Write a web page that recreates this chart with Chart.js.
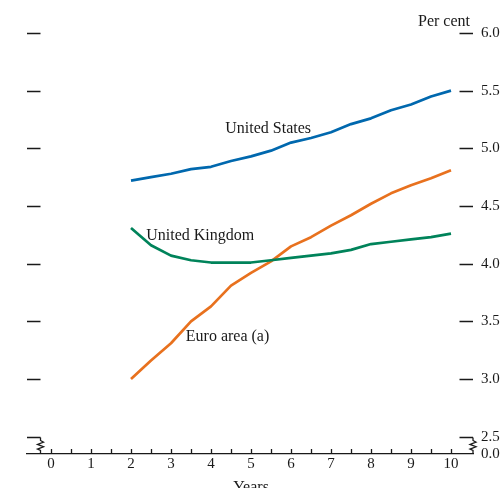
<!DOCTYPE html>
<html>
<head>
<meta charset="utf-8">
<script src="https://cdn.jsdelivr.net/npm/chart.js@4/dist/chart.umd.min.js"></script>
<style>
  html, body { margin: 0; padding: 0; background: #fff; }
  #wrap { width: 504px; height: 488px; }
</style>
</head>
<body>
<div id="wrap"><canvas id="c" width="504" height="488"></canvas></div>
<script>
// Horizon in years and the three paths, per cent
const years = [2, 2.5, 3, 3.5, 4, 4.5, 5, 5.5, 6, 6.5, 7, 7.5, 8, 8.5, 9, 9.5, 10];
const unitedStates  = [4.72, 4.75, 4.78, 4.82, 4.84, 4.89, 4.93, 4.98, 5.05, 5.09, 5.14, 5.21, 5.26, 5.33, 5.38, 5.45, 5.50];
const unitedKingdom = [4.31, 4.16, 4.07, 4.03, 4.01, 4.01, 4.01, 4.03, 4.05, 4.07, 4.09, 4.12, 4.17, 4.19, 4.21, 4.23, 4.26];
const euroArea      = [3.00, 3.16, 3.31, 3.50, 3.63, 3.81, 3.92, 4.02, 4.15, 4.23, 4.33, 4.42, 4.52, 4.61, 4.68, 4.74, 4.81];

// Axis ticks
const xTickValues = [0, 1, 2, 3, 4, 5, 6, 7, 8, 9, 10];
const yTickValues = [2.5, 3.0, 3.5, 4.0, 4.5, 5.0, 5.5, 6.0];
// The value axis is broken below 2.5; its foot is labelled 0.0
const AXIS_FOOT = 2.35;

const SERIF = '"Liberation Serif", "Times New Roman", Times, serif';
const INK = '#1a1a1a';
const BLUE = 'rgb(0, 104, 174)';
const GREEN = 'rgb(0, 131, 90)';
const ORANGE = 'rgb(232, 113, 30)';

// Series names written beside the lines, anchored in data units
const seriesNotes = [
  { text: 'United States',  x: 5.43, y: 5.17, align: 'center' },
  { text: 'United Kingdom', x: 2.38, y: 4.24, align: 'left' },
  { text: 'Euro area (a)',  x: 3.37, y: 3.37, align: 'left' }
];

function points(values) {
  return years.map((x, i) => ({ x: x, y: values[i] }));
}

function zigzag(ctx, x, yTop, yBottom) {
  const span = yBottom - yTop;
  ctx.beginPath();
  ctx.moveTo(x, yTop);
  ctx.lineTo(x, yTop + span * 0.18);
  ctx.lineTo(x + 3, yTop + span * 0.28);
  ctx.lineTo(x - 3, yTop + span * 0.42);
  ctx.lineTo(x + 3, yTop + span * 0.56);
  ctx.lineTo(x - 3, yTop + span * 0.70);
  ctx.lineTo(x, yTop + span * 0.78);
  ctx.lineTo(x, yBottom);
  ctx.stroke();
}

const decorations = {
  id: 'decorations',
  afterDraw(chart) {
    const ctx = chart.ctx;
    const xs = chart.scales.x;
    const ys = chart.scales.y;
    const area = chart.chartArea;
    const tick = 13.5;
    ctx.save();
    ctx.strokeStyle = INK;
    ctx.lineWidth = 1.3;
    ctx.lineCap = 'butt';
    ctx.lineJoin = 'miter';

    // value ticks, drawn inward on both sides
    yTickValues.forEach(v => {
      const y = Math.round(ys.getPixelForValue(v)) + 0.5;
      ctx.beginPath();
      ctx.moveTo(area.left, y);
      ctx.lineTo(area.left + tick, y);
      ctx.moveTo(area.right - tick, y);
      ctx.lineTo(area.right, y);
      ctx.stroke();
    });

    // axis breaks between 2.5 and the foot
    const yBreak = Math.round(ys.getPixelForValue(yTickValues[0])) + 0.5;
    const yFoot = area.bottom;
    zigzag(ctx, area.left + tick, yBreak, yFoot);
    zigzag(ctx, area.right, yBreak, yFoot);

    // half-year ticks rising from the time axis
    for (let t = 0; t <= 10; t += 0.5) {
      const x = Math.round(xs.getPixelForValue(t)) + 0.5;
      ctx.beginPath();
      ctx.moveTo(x, yFoot);
      ctx.lineTo(x, yFoot - 5);
      ctx.stroke();
    }

    // text
    ctx.fillStyle = INK;
    ctx.font = '16px ' + SERIF;
    ctx.textBaseline = 'middle';
    seriesNotes.forEach(n => {
      ctx.textAlign = n.align;
      ctx.fillText(n.text, xs.getPixelForValue(n.x), ys.getPixelForValue(n.y));
    });
    ctx.textAlign = 'right';
    ctx.fillText('Per cent', area.right - 3, 22);
    ctx.textAlign = 'center';
    ctx.textBaseline = 'alphabetic';
    ctx.fillText('Years', xs.getPixelForValue(5), 492);
    ctx.restore();
  }
};

new Chart(document.getElementById('c'), {
  type: 'line',
  data: {
    datasets: [
      { label: 'United States',  data: points(unitedStates),  borderColor: BLUE },
      { label: 'United Kingdom', data: points(unitedKingdom), borderColor: GREEN },
      { label: 'Euro area (a)',  data: points(euroArea),      borderColor: ORANGE }
    ]
  },
  options: {
    responsive: false,
    animation: false,
    devicePixelRatio: 1,
    layout: { padding: { left: 27, top: 33, right: 0, bottom: 0 } },
    elements: {
      line: { borderWidth: 2.7, tension: 0, fill: false, borderJoinStyle: 'round', borderCapStyle: 'butt' },
      point: { radius: 0, hoverRadius: 0 }
    },
    plugins: { legend: { display: false }, tooltip: { enabled: false } },
    scales: {
      x: {
        type: 'linear',
        min: -0.6,
        max: 10.55,
        afterBuildTicks: s => { s.ticks = xTickValues.map(v => ({ value: v })); },
        afterFit: s => { s.height = 34; },
        grid: { display: false, drawTicks: false },
        border: { display: true, color: INK, width: 1.3 },
        ticks: {
          color: INK, font: { family: SERIF, size: 15 }, padding: 1,
          maxRotation: 0, autoSkip: false,
          callback: v => String(v)
        }
      },
      y: {
        position: 'right',
        min: AXIS_FOOT,
        max: 6.0,
        afterBuildTicks: s => { s.ticks = [AXIS_FOOT].concat(yTickValues).map(v => ({ value: v })); },
        afterFit: s => { s.width = 31; },
        grid: { display: false, drawTicks: false },
        border: { display: false },
        ticks: {
          color: INK, font: { family: SERIF, size: 15 }, padding: 8,
          callback: v => (v === AXIS_FOOT ? '0.0' : v.toFixed(1))
        }
      }
    }
  },
  plugins: [decorations]
});
</script>
</body>
</html>
